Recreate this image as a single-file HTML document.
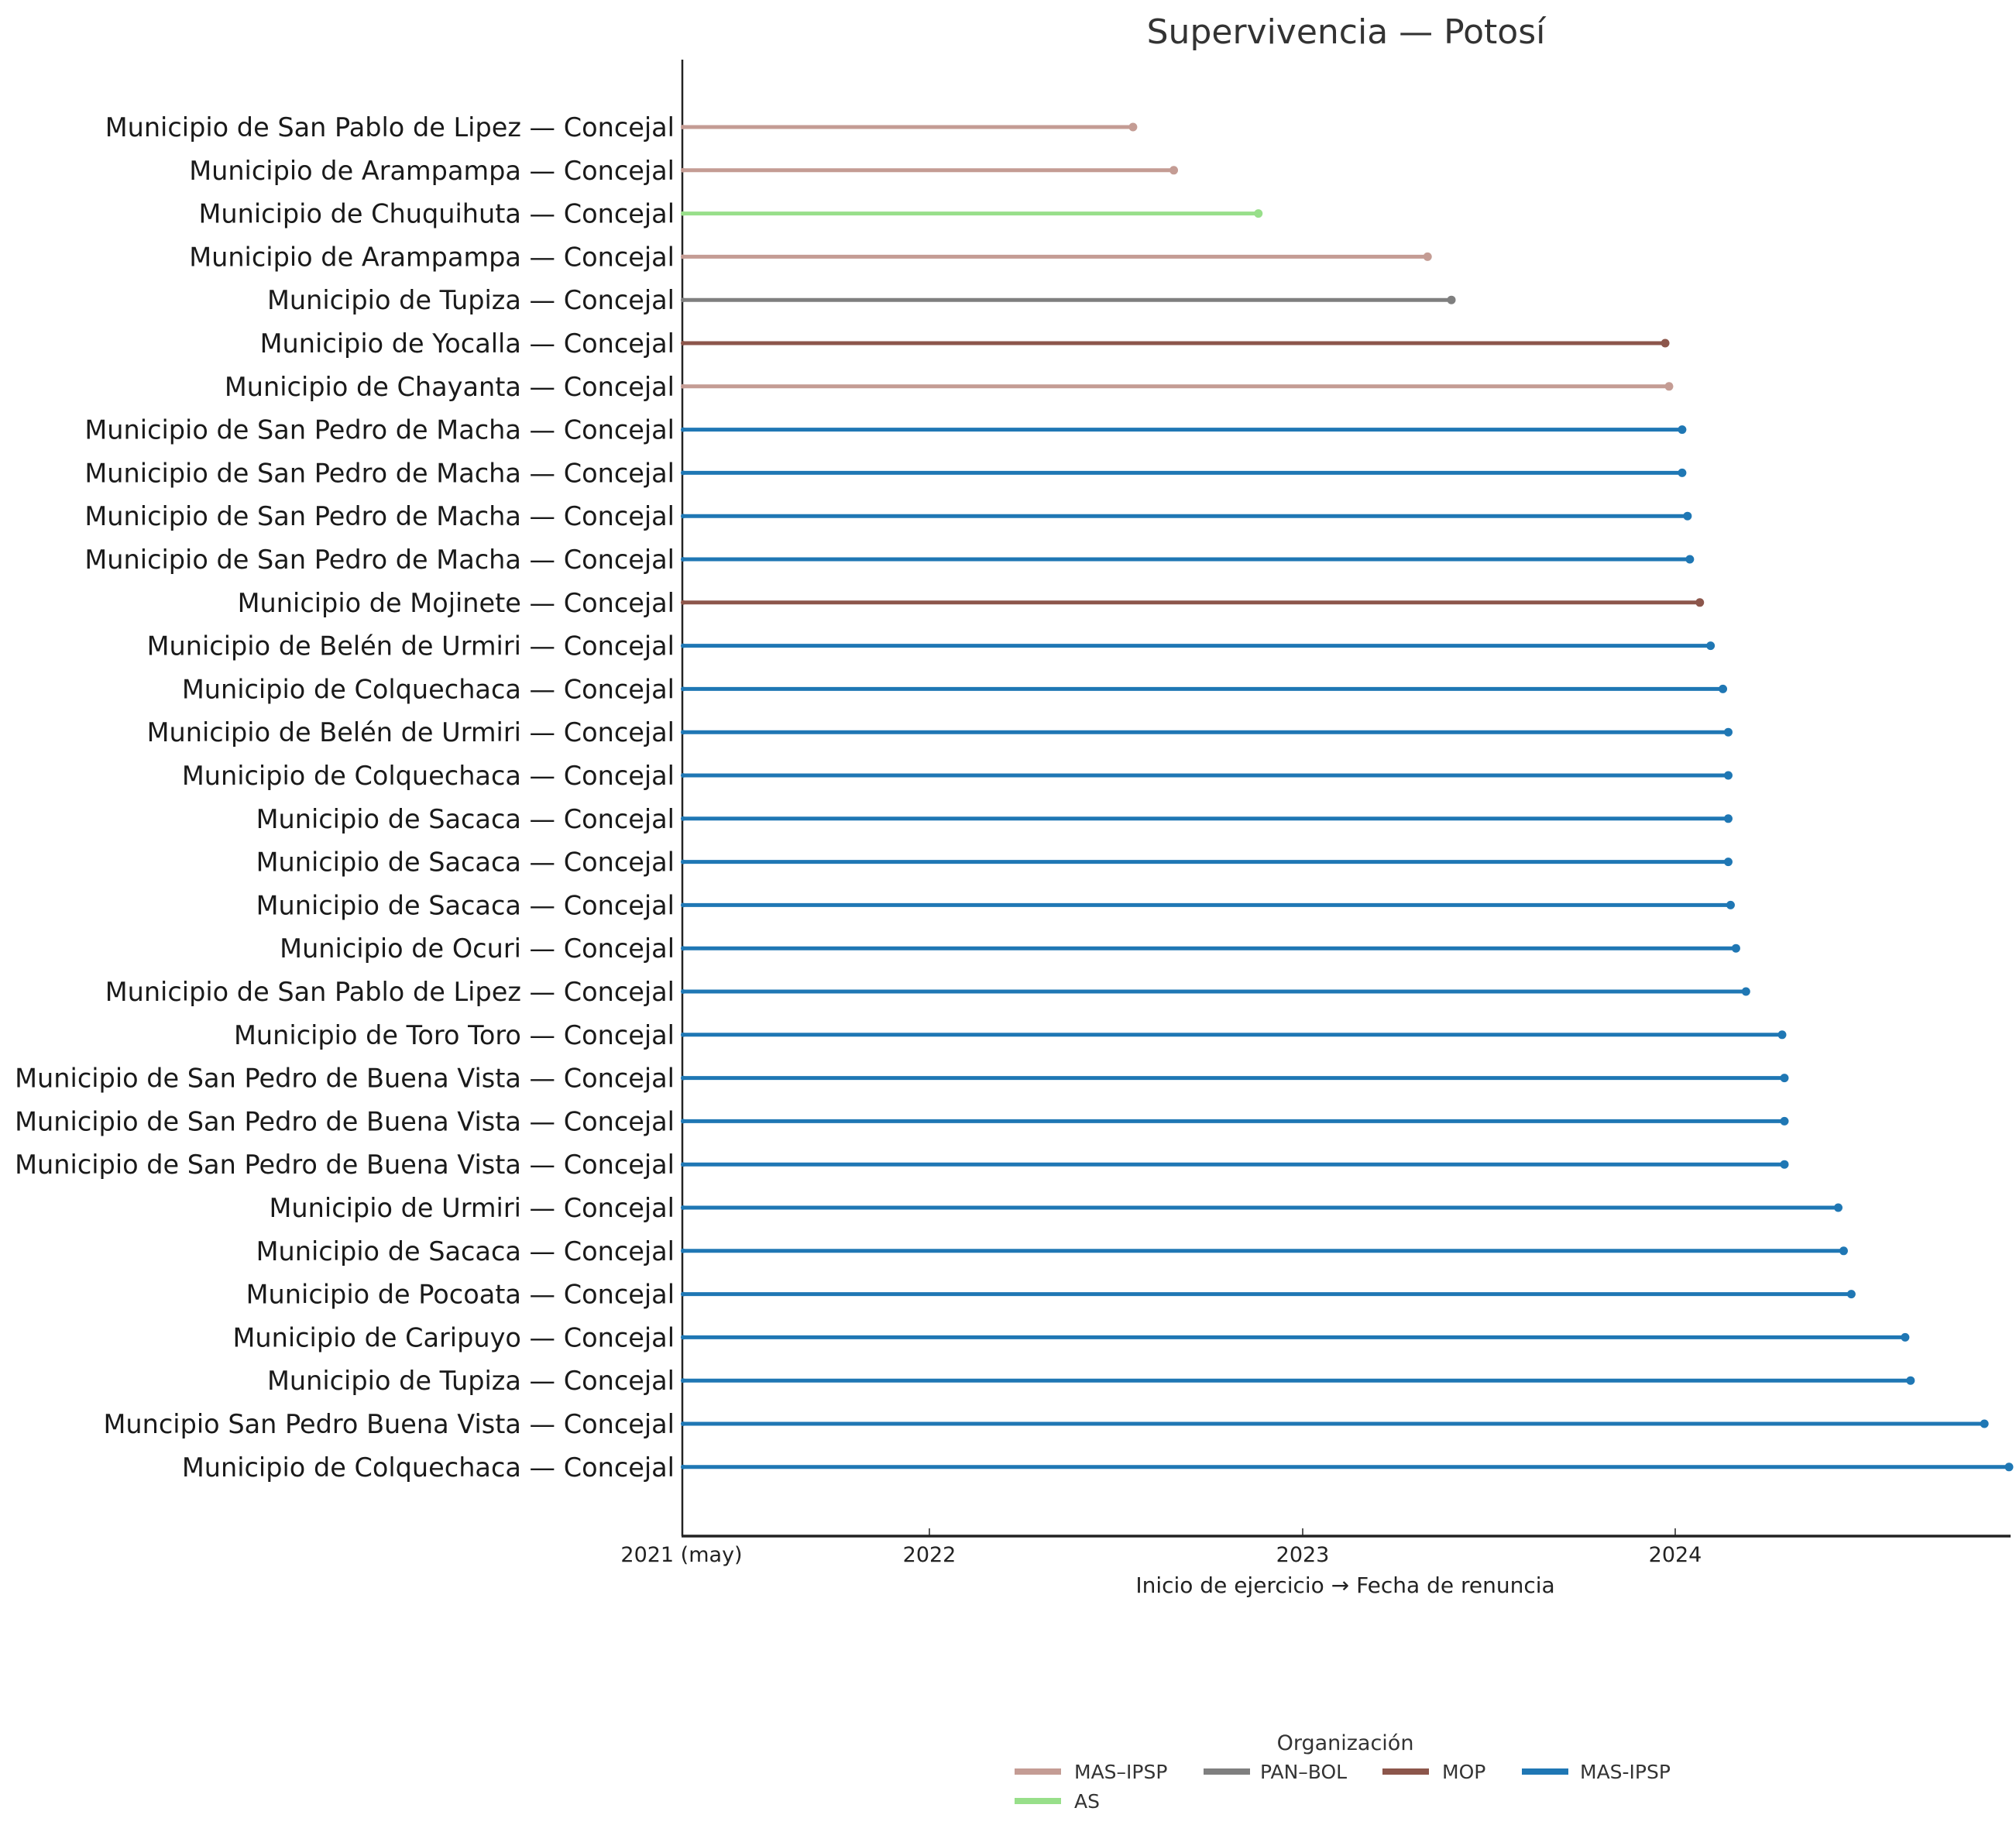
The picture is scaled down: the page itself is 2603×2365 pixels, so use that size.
<!DOCTYPE html>
<html><head><meta charset="utf-8"><style>
html,body{margin:0;padding:0;background:#fff;}
svg{display:block;font-family:"DejaVu Sans","Liberation Sans",sans-serif;}
</style></head><body>
<svg width="2603" height="2365" viewBox="0 0 2603 2365" xmlns="http://www.w3.org/2000/svg">
<rect width="2603" height="2365" fill="#fff"/>
<text x="1738" y="56" font-size="44" fill="#333" text-anchor="middle">Supervivencia — Potosí</text>
<line x1="881" y1="77" x2="881" y2="1983" stroke="#222" stroke-width="2.5"/>
<line x1="880" y1="1983" x2="2596" y2="1983" stroke="#222" stroke-width="3.5"/>
<g stroke="#222" stroke-width="1.5">
<line x1="1200" y1="1973" x2="1200" y2="1983"/>
<line x1="1682" y1="1973" x2="1682" y2="1983"/>
<line x1="2163" y1="1973" x2="2163" y2="1983"/>
</g>
<g font-size="27" fill="#222" text-anchor="middle">
<text x="880" y="2016">2021 (may)</text>
<text x="1200" y="2016">2022</text>
<text x="1682" y="2016">2023</text>
<text x="2163" y="2016">2024</text>
<text x="1737" y="2056" font-size="28">Inicio de ejercicio → Fecha de renuncia</text>
</g>
<g font-size="25" fill="#333">
<text x="1737" y="2259" text-anchor="middle" font-size="27">Organización</text>
<rect x="1310" y="2283" width="60" height="8" fill="#c49c94"/><text x="1387" y="2296">MAS–IPSP</text>
<rect x="1554" y="2283" width="60" height="8" fill="#7f7f7f"/><text x="1627" y="2296">PAN–BOL</text>
<rect x="1785" y="2283" width="60" height="8" fill="#8c564b"/><text x="1862" y="2296">MOP</text>
<rect x="1965" y="2283" width="60" height="8" fill="#1f77b4"/><text x="2040" y="2296">MAS-IPSP</text>
<rect x="1310" y="2321" width="60" height="8" fill="#98df8a"/><text x="1387" y="2334">AS</text>
</g>
<g id="data" font-size="33.5" fill="#1a1a1a" text-anchor="end"></g>
</svg>
<script>
var rows=[
["Municipio de San Pablo de Lipez — Concejal",1467,"#c49c94"],
["Municipio de Arampampa — Concejal",1520,"#c49c94"],
["Municipio de Chuquihuta — Concejal",1630,"#98df8a"],
["Municipio de Arampampa — Concejal",1850,"#c49c94"],
["Municipio de Tupiza — Concejal",1881,"#7f7f7f"],
["Municipio de Yocalla — Concejal",2159,"#8c564b"],
["Municipio de Chayanta — Concejal",2164,"#c49c94"],
["Municipio de San Pedro de Macha — Concejal",2181,"#1f77b4"],
["Municipio de San Pedro de Macha — Concejal",2181,"#1f77b4"],
["Municipio de San Pedro de Macha — Concejal",2188,"#1f77b4"],
["Municipio de San Pedro de Macha — Concejal",2191,"#1f77b4"],
["Municipio de Mojinete — Concejal",2204,"#8c564b"],
["Municipio de Belén de Urmiri — Concejal",2218,"#1f77b4"],
["Municipio de Colquechaca — Concejal",2234,"#1f77b4"],
["Municipio de Belén de Urmiri — Concejal",2241,"#1f77b4"],
["Municipio de Colquechaca — Concejal",2241,"#1f77b4"],
["Municipio de Sacaca — Concejal",2241,"#1f77b4"],
["Municipio de Sacaca — Concejal",2241,"#1f77b4"],
["Municipio de Sacaca — Concejal",2244,"#1f77b4"],
["Municipio de Ocuri — Concejal",2251,"#1f77b4"],
["Municipio de San Pablo de Lipez — Concejal",2264,"#1f77b4"],
["Municipio de Toro Toro — Concejal",2311,"#1f77b4"],
["Municipio de San Pedro de Buena Vista — Concejal",2314,"#1f77b4"],
["Municipio de San Pedro de Buena Vista — Concejal",2314,"#1f77b4"],
["Municipio de San Pedro de Buena Vista — Concejal",2314,"#1f77b4"],
["Municipio de Urmiri — Concejal",2384,"#1f77b4"],
["Municipio de Sacaca — Concejal",2391,"#1f77b4"],
["Municipio de Pocoata — Concejal",2401,"#1f77b4"],
["Municipio de Caripuyo — Concejal",2471,"#1f77b4"],
["Municipio de Tupiza — Concejal",2478,"#1f77b4"],
["Muncipio San Pedro Buena Vista — Concejal",2574,"#1f77b4"],
["Municipio de Colquechaca — Concejal",2594,"#1f77b4"]];
var g=document.getElementById("data"),ns="http://www.w3.org/2000/svg";
rows.forEach(function(r,i){
 var y=164+55.8*i;
 var x=(i==31)?2594:881+(r[1]-881)*0.993;
 var l=document.createElementNS(ns,"line");
 l.setAttribute("x1",881);l.setAttribute("x2",x);l.setAttribute("y1",y);l.setAttribute("y2",y);
 l.setAttribute("stroke",r[2]);l.setAttribute("stroke-width",5);g.appendChild(l);
 var c=document.createElementNS(ns,"circle");
 c.setAttribute("cx",x);c.setAttribute("cy",y);c.setAttribute("r",5.5);c.setAttribute("fill",r[2]);g.appendChild(c);
 var c2=document.createElementNS(ns,"circle");
 c2.setAttribute("cx",882);c2.setAttribute("cy",y);c2.setAttribute("r",3);c2.setAttribute("fill",r[2]);g.appendChild(c2);
 var t=document.createElementNS(ns,"text");
 t.setAttribute("x",871);t.setAttribute("y",y+12);t.textContent=r[0];g.appendChild(t);
});
</script>
</body></html>
